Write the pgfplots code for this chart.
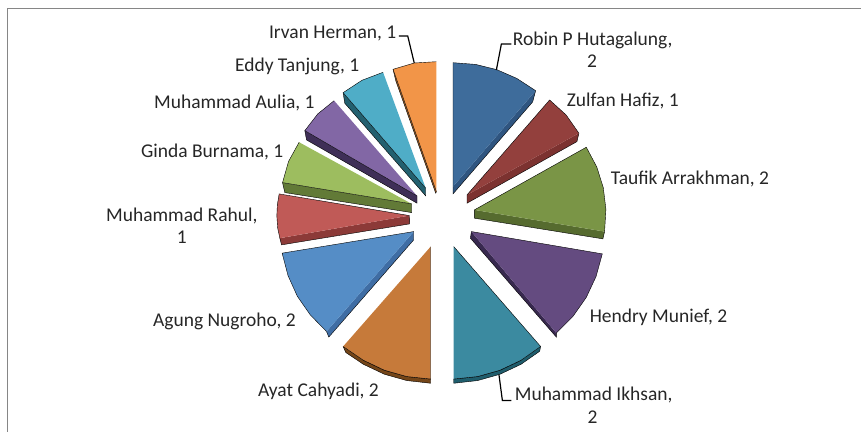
\documentclass[border=0pt]{standalone}
\usepackage{pgfplots}
\pgfplotsset{compat=1.18}
\usepackage{fontspec}
\setmainfont{Carlito}
\definecolor{txt}{HTML}{262626}
\tikzset{
  lab/.style={font=\fontsize{19.5}{23}\selectfont, text=txt, anchor=base west, inner sep=0pt},
  labc/.style={font=\fontsize{19.5}{23}\selectfont, text=txt, anchor=base, inner sep=0pt},
}
\begin{document}
\begin{tikzpicture}
\begin{axis}[
  at={(0,0)}, anchor=south west,
  width=862pt, height=432pt, scale only axis,
  xmin=0, xmax=862, ymin=0, ymax=432, y dir=reverse,
  hide axis, clip=false,
]
% canvas corners (keeps page exact)
\addplot[draw=white, line width=0.1pt, forget plot] coordinates {(0,0)(862,0)(862,432)(0,432)};
% frame
\addplot[draw=gray!95, line width=1.2pt, forget plot] coordinates {(7.7,432)(7.7,8.5)(862,8.5)};

% --- side faces ---
\addplot[fill={rgb,255:red,47;green,85;blue,128}] coordinates {(536,90.7)(533,102)(453.3,194)(453.3,186.7)};
\addplot[fill={rgb,255:red,124;green,50;blue,48}] coordinates {(579.3,133.3)(577.3,141.7)(467.3,203.3)(467.3,195)};
\addplot[fill={rgb,255:red,86;green,107;blue,47}] coordinates {(605,231.7)(603.3,239)(474.7,218.3)(474.7,210)};
\addplot[fill={rgb,255:red,56;green,41;blue,79}] coordinates {(556.7,333.3)(556.7,337.3)(470.7,238.3)(471.7,231.7)};
\addplot[fill={rgb,255:red,31;green,93;blue,108}] coordinates {(541,346.7)(540,351.5)(521.4,364.5)(500.3,374.5)(477.9,380.8)(454,383.5)(454,379.3)(477.9,376.8)(500.3,370.5)(521.4,360.5)};
\addplot[fill={rgb,255:red,116;green,69;blue,24}] coordinates {(343.3,346.7)(346,352.7)(363.6,364.5)(384.7,374.5)(407.1,380.8)(431,383.5)(431,379.3)(407.1,376.8)(384.7,370.5)(363.6,360.5)};
\addplot[fill={rgb,255:red,63;green,109;blue,164}] coordinates {(326.7,331.7)(329,337.3)(414,240)(414,231.7)};
\addplot[fill={rgb,255:red,140;green,58;blue,56}] coordinates {(280,238.3)(281.7,245)(410,224)(409.7,215.7)};
\addplot[fill={rgb,255:red,98;green,122;blue,55}] coordinates {(282.7,182.7)(285,192.7)(412,212.7)(412,204)};
\addplot[fill={rgb,255:red,63;green,47;blue,87}] coordinates {(305,130.7)(306.7,140)(417.3,203.3)(417.3,196)};
\addplot[fill={rgb,255:red,35;green,96;blue,111}] coordinates {(343.3,92.7)(345,103.3)(426,196)(426,188.3)};
\addplot[fill={rgb,255:red,156;green,92;blue,37}] coordinates {(393.3,69.3)(396,80.7)(436,193.3)(436.7,191.7)};

% --- top faces ---
\addplot[fill={rgb,255:red,62;green,108;blue,155}] coordinates {(453.3,186.7)(453.3,62.7)(475.8,64.4)(497,69.6)(517.1,78.4)(536,90.7)};
\addplot[fill={rgb,255:red,147;green,64;blue,61}] coordinates {(467.3,195)(550,100)(566.5,115)(579.3,133.3)};
\addplot[fill={rgb,255:red,122;green,149;blue,70}] coordinates {(474.7,210)(586.7,147.3)(597.2,167.1)(603.7,187.8)(606.3,209.3)(605,231.7)};
\addplot[fill={rgb,255:red,100;green,75;blue,128}] coordinates {(471.7,231.7)(602.7,254)(596.4,276.8)(586.6,297.7)(573.4,316.5)(556.7,333.3)};
\addplot[fill={rgb,255:red,59;green,138;blue,160}] coordinates {(454,246.7)(541,346.7)(521.4,360.5)(500.3,370.5)(477.9,376.8)(454,379.3)};
\addplot[fill={rgb,255:red,198;green,122;blue,58}] coordinates {(431,246.7)(431,379.3)(407.1,376.8)(384.7,370.5)(363.6,360.5)(343.3,346.7)};
\addplot[fill={rgb,255:red,85;green,141;blue,198}] coordinates {(414,231.7)(282.3,253.3)(288.2,275.8)(297.5,296.4)(310.4,315)(326.7,331.7)};
\addplot[fill={rgb,255:red,192;green,90;blue,87}] coordinates {(409.7,215.7)(279.3,194)(277.5,205)(277,216)(277.8,228)(280,238.3)};
\addplot[fill={rgb,255:red,157;green,189;blue,95}] coordinates {(412,204)(282.7,182.7)(288.7,161.5)(299.3,142.3)};
\addplot[fill={rgb,255:red,130;green,103;blue,165}] coordinates {(417.3,196)(305,130.7)(317.9,114)(334.3,100.7)};
\addplot[fill={rgb,255:red,79;green,173;blue,199}] coordinates {(426,188.3)(343.3,92.7)(362.2,80.3)(383.3,72.3)};
\addplot[fill={rgb,255:red,242;green,149;blue,72}] coordinates {(436.7,191.7)(393.3,69.3)(414.6,63)(436.7,61.7)};

% --- leader lines ---
\addplot[draw=black, line width=1.2pt, forget plot] coordinates {(399,36)(408,36)(414.5,63)};
\addplot[draw=black, line width=1.2pt, forget plot] coordinates {(511.7,44)(501.7,44)(496.7,70)};
\addplot[draw=black, line width=1.2pt, forget plot] coordinates {(511.7,400.7)(502.7,400.7)(499.3,375)};

% --- labels ---
\node[lab] at (axis cs:269,38) {Irvan Herman, 1};
\node[lab] at (axis cs:513,45) {Robin P Hutagalung,};
\node[labc] at (axis cs:592.5,68) {2};
\node[lab] at (axis cs:567,107) {Zulfan Haf{}iz, 1};
\node[lab] at (axis cs:235,72) {Eddy Tanjung, 1};
\node[lab] at (axis cs:154,109) {Muhammad Aulia, 1};
\node[lab] at (axis cs:141,158) {Ginda Burnama, 1};
\node[lab] at (axis cs:611,185) {Tauf{}ik Arrakhman, 2};
\node[lab] at (axis cs:106,222) {Muhammad Rahul,};
\node[labc] at (axis cs:182,244) {1};
\node[lab] at (axis cs:590,323) {Hendry Munief, 2};
\node[lab] at (axis cs:153,327) {Agung Nugroho, 2};
\node[lab] at (axis cs:258,397) {Ayat Cahyadi, 2};
\node[lab] at (axis cs:515,401) {Muhammad Ikhsan,};
\node[labc] at (axis cs:593,424) {2};
\end{axis}
\end{tikzpicture}
\end{document}
